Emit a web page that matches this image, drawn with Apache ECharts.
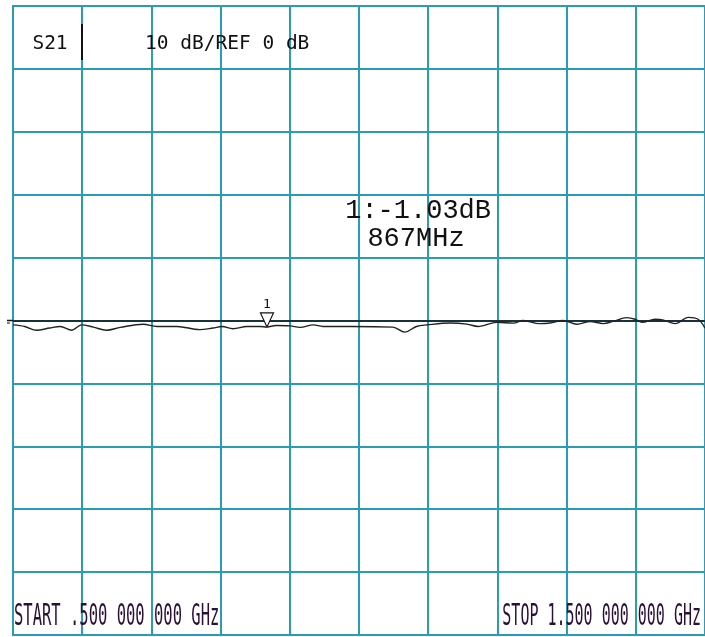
<!DOCTYPE html>
<html>
<head>
<meta charset="utf-8">
<script src="https://cdn.jsdelivr.net/npm/echarts@6/dist/echarts.min.js"></script>
<style>html,body{margin:0;padding:0;background:#fff;}#c{width:705px;height:637px;}</style>
</head>
<body>
<div id="c"></div>
<script>
// Data (frequency in GHz, S21 in dB)
var freqGHz = [0.500, 0.517, 0.534, 0.553, 0.568, 0.585, 0.599, 0.616, 0.635, 0.655, 0.688, 0.708, 0.737, 0.770, 0.789, 0.802, 0.818, 0.838, 0.857, 0.867, 0.880, 0.900, 0.915, 0.934, 0.948, 0.987, 1.049, 1.066, 1.083, 1.098, 1.132, 1.156, 1.172, 1.199, 1.223, 1.237, 1.261, 1.276, 1.295, 1.315, 1.334, 1.353, 1.367, 1.387, 1.399, 1.409, 1.428, 1.439, 1.457, 1.476, 1.490, 1.500];
var s21dB = [-0.70, -0.95, -1.55, -1.20, -0.95, -1.55, -0.70, -1.05, -1.55, -1.10, -0.60, -0.95, -0.95, -1.45, -1.20, -0.95, -1.30, -0.95, -0.95, -1.03, -0.80, -0.85, -1.10, -0.70, -0.95, -0.95, -1.05, -1.85, -0.95, -0.70, -0.40, -0.58, -0.95, -0.30, -0.42, 0.00, -0.50, -0.40, 0.00, -0.60, -0.15, -0.50, -0.15, 0.45, 0.20, -0.30, 0.20, 0.10, -0.50, 0.50, 0.20, -1.20];
var channelLabel = 'S21';
var scaleLabel = '10 dB/REF 0 dB';
var startLabel = 'START .500 000 000 GHz';
var stopLabel = 'STOP 1.500 000 000 GHz';
var markerNo = '1';
var markerFreqGHz = 0.867;
var markerValdB = -1.03;
var refLevel = 0;
var xMin = 0.5, xMax = 1.5, xStep = 0.1;
var yMin = -50, yMax = 50, yStep = 10;

var gridColor = '#2a9cb8';
var traceData = freqGHz.map(function (f, i) { return [f, s21dB[i]]; });

var chart = echarts.init(document.getElementById('c'));
chart.setOption({
  animation: false,
  backgroundColor: '#ffffff',
  grid: { left: 13, top: 6, right: 0, bottom: 2, show: true, borderColor: gridColor, borderWidth: 2, backgroundColor: 'transparent' },
  xAxis: {
    type: 'value', min: xMin, max: xMax, interval: xStep,
    axisLine: { show: false }, axisTick: { show: false }, axisLabel: { show: false },
    splitLine: { show: true, lineStyle: { color: gridColor, width: 2 } }
  },
  yAxis: {
    type: 'value', min: yMin, max: yMax, interval: yStep,
    axisLine: { show: false }, axisTick: { show: false }, axisLabel: { show: false },
    splitLine: { show: true, lineStyle: { color: gridColor, width: 2 } }
  },
  series: [{
    type: 'line',
    data: traceData,
    showSymbol: false,
    smooth: 0.35,
    lineStyle: { color: '#222222', width: 1.4 },
    z: 5,
    markLine: {
      silent: true, symbol: ['none', 'none'],
      label: { show: false },
      lineStyle: { color: '#111111', width: 1.5, type: 'solid' },
      data: [{ yAxis: refLevel }]
    },
    markPoint: {
      symbol: 'path://M0,0 L10,0 L5,11 Z',
      symbolSize: [13, 14],
      symbolOffset: [0, '-50%'],
      itemStyle: { color: '#ffffff', borderColor: '#111111', borderWidth: 1.2 },
      label: { show: true, position: 'top', distance: 1, formatter: markerNo, color: '#111111', fontFamily: 'DejaVu Sans Mono', fontSize: 13 },
      data: [{ coord: [markerFreqGHz, markerValdB] }]
    }
  }],
  graphic: [
    { id: 'ch', type: 'text', x: 50, y: 44, style: { text: channelLabel, font: 'normal 19.5px "DejaVu Sans Mono"', fill: '#111111', align: 'center', verticalAlign: 'middle', textAlign: 'center', textVerticalAlign: 'middle' }, z: 10 },
    { id: 'sep', type: 'line', shape: { x1: 82, y1: 24, x2: 82, y2: 60 }, style: { stroke: '#111111', lineWidth: 2 }, z: 10 },
    { id: 'scale', type: 'text', x: 145, y: 44, style: { text: scaleLabel, font: 'normal 19.5px "DejaVu Sans Mono"', fill: '#111111', align: 'left', verticalAlign: 'middle', textAlign: 'left', textVerticalAlign: 'middle' }, z: 10 },
    { id: 'mval', type: 'text', x: 491, y: 211, style: { text: markerNo + ':' + markerValdB.toFixed(2) + 'dB', font: 'normal 27px "Liberation Mono"', fill: '#111111', align: 'right', verticalAlign: 'middle', textAlign: 'right', textVerticalAlign: 'middle' }, z: 10 },
    { id: 'mfreq', type: 'text', x: 416, y: 239, style: { text: Math.round(markerFreqGHz * 1000) + 'MHz', font: 'normal 27px "Liberation Mono"', fill: '#111111', align: 'center', verticalAlign: 'middle', textAlign: 'center', textVerticalAlign: 'middle' }, z: 10 },
    { id: 'start', type: 'text', x: 14, y: 617, scaleY: 2.0, style: { text: startLabel, font: 'normal 15.5px "DejaVu Sans Mono"', fill: '#2a0f38', align: 'left', verticalAlign: 'middle', textAlign: 'left', textVerticalAlign: 'middle' }, z: 10 },
    { id: 'stop', type: 'text', x: 701, y: 617, scaleY: 2.0, style: { text: stopLabel, font: 'normal 15px "DejaVu Sans Mono"', fill: '#2a0f38', align: 'right', verticalAlign: 'middle', textAlign: 'right', textVerticalAlign: 'middle' }, z: 10 }
  ]
});

// Reference-level indicator to the left of the grid, positioned via the axis scale
var refPt = chart.convertToPixel({ gridIndex: 0 }, [xMin, refLevel]);
chart.setOption({
  graphic: [
    { id: 'refExt', type: 'line', shape: { x1: 7, y1: refPt[1], x2: refPt[0], y2: refPt[1] }, style: { stroke: '#111111', lineWidth: 1.5 }, z: 10 },
    { id: 'refTick', type: 'line', shape: { x1: 7, y1: refPt[1] + 2.5, x2: 10, y2: refPt[1] + 2.5 }, style: { stroke: '#111111', lineWidth: 1 }, z: 10 }
  ]
});
</script>
</body>
</html>
